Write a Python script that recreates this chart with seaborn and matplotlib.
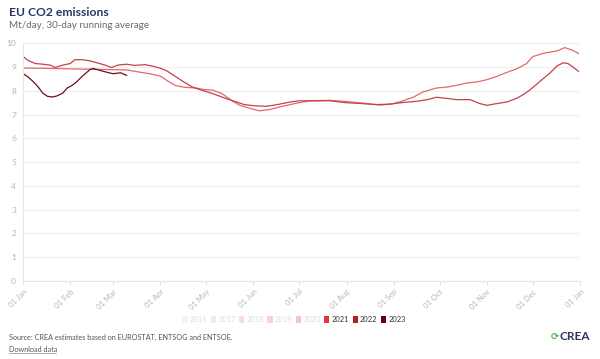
import matplotlib
matplotlib.use("Agg")
import matplotlib.pyplot as plt
import matplotlib.dates as mdates
from matplotlib.patches import Patch
from matplotlib.lines import Line2D
import pandas as pd
import seaborn as sns

# ---------------- data (day of year -> Mt/day) ----------------
days_2021 = [0, 20, 42, 68, 77, 83, 90, 94, 100, 106, 113, 119, 124, 130, 137, 142, 149,
             155, 162, 170, 180, 188, 201, 212, 223, 234, 242, 249, 256, 262, 271, 278,
             284, 291, 298, 304, 311, 316, 324, 330, 334, 341, 350, 355, 360, 364]
vals_2021 = [8.96, 8.94, 8.91, 8.88, 8.78, 8.72, 8.62, 8.45, 8.22, 8.15, 8.12, 8.05, 8.03,
             7.90, 7.58, 7.39, 7.26, 7.16, 7.22, 7.35, 7.49, 7.58, 7.60, 7.55, 7.48, 7.40,
             7.45, 7.58, 7.74, 7.95, 8.12, 8.16, 8.23, 8.33, 8.38, 8.47, 8.62, 8.75, 8.94,
             9.15, 9.44, 9.58, 9.68, 9.82, 9.71, 9.57]

days_2022 = [0, 3, 8, 13, 18, 21, 26, 31, 34, 39, 44, 49, 54, 58, 62, 68, 73, 80, 85, 90,
             94, 100, 106, 111, 117, 124, 132, 139, 145, 152, 159, 165, 175, 181, 190, 201,
             212, 223, 232, 240, 249, 258, 265, 271, 278, 284, 293, 299, 304, 311, 317, 324,
             328, 332, 337, 341, 345, 350, 354, 357, 360, 364]
vals_2022 = [9.45, 9.29, 9.15, 9.12, 9.08, 8.98, 9.08, 9.15, 9.31, 9.31, 9.26, 9.17, 9.08,
             8.98, 9.08, 9.12, 9.07, 9.10, 9.04, 8.95, 8.85, 8.60, 8.35, 8.16, 8.03, 7.89,
             7.70, 7.55, 7.42, 7.37, 7.35, 7.40, 7.53, 7.58, 7.58, 7.58, 7.50, 7.46, 7.42,
             7.44, 7.51, 7.56, 7.63, 7.73, 7.68, 7.63, 7.63, 7.47, 7.39, 7.47, 7.53, 7.70,
             7.85, 8.03, 8.30, 8.52, 8.73, 9.05, 9.18, 9.15, 9.02, 8.82]

days_2023 = [0, 3, 7, 10, 13, 16, 19, 22, 26, 29, 32, 35, 39, 44, 46, 50, 55, 59, 64, 68]
vals_2023 = [8.73, 8.60, 8.37, 8.16, 7.90, 7.77, 7.74, 7.78, 7.90, 8.12, 8.22, 8.37, 8.62,
             8.90, 8.94, 8.87, 8.78, 8.72, 8.76, 8.65]

legend_years = ["2016", "2017", "2018", "2019", "2020", "2021", "2022", "2023"]
legend_colors = ["#fdf2f2", "#fce6e6", "#fbdcdc", "#f9d2d2", "#f6c6c6",
                 "#d9383f", "#b21f2b", "#67000d"]
line_colors = {"2021": "#e4676c", "2022": "#c5404a", "2023": "#6d0f1c"}

title = "EU CO2 emissions"
subtitle = "Mt/day, 30-day running average"
source = "Source: CREA estimates based on EUROSTAT, ENTSOG and ENTSOE."

# ---------------- build table ----------------
base = pd.Timestamp("2022-01-01")
frames = []
for yr, d, v in [("2021", days_2021, vals_2021), ("2022", days_2022, vals_2022),
                 ("2023", days_2023, vals_2023)]:
    frames.append(pd.DataFrame({"date": base + pd.to_timedelta(d, unit="D"),
                                "value": v, "year": yr}))
df = pd.concat(frames, ignore_index=True)

# ---------------- figure ----------------
sns.set_theme(style="white")
plt.rcParams["font.family"] = ["Lato", "DejaVu Sans"]

fig = plt.figure(figsize=(6, 3.59), dpi=100)
ax = fig.add_axes([0.0383, 0.2173, 0.9284, 0.6621])

sns.lineplot(data=df, x="date", y="value", hue="year", palette=line_colors,
             hue_order=["2021", "2022", "2023"], estimator=None, legend=False,
             linewidth=0.9, ax=ax)

ax.set_xlim(base, pd.Timestamp("2023-01-01"))
ax.set_ylim(0, 10)
ax.set_yticks(range(0, 11))
ax.grid(axis="y", color="#eeeeee", linewidth=0.8)
ax.grid(axis="x", visible=False)
ax.set_axisbelow(True)
ax.xaxis.set_major_locator(mdates.MonthLocator())
ax.xaxis.set_major_formatter(mdates.DateFormatter("%d %b"))
ax.set_xlabel("")
ax.set_ylabel("")
for s in ["top", "right"]:
    ax.spines[s].set_visible(False)
for s in ["left", "bottom"]:
    ax.spines[s].set_color("#e6e6e6")
    ax.spines[s].set_linewidth(0.8)
ax.tick_params(axis="y", length=0, pad=5, labelsize=6, labelcolor="#b5b5b5")
ax.tick_params(axis="x", length=3, width=0.6, color="#dddddd", pad=2,
               labelsize=5.5, labelcolor="#b5b5b5", bottom=True)
plt.setp(ax.get_xticklabels(), rotation=45, ha="right", rotation_mode="anchor")

# titles
fig.text(9 / 600, 1 - 12 / 359, title, fontsize=8.7, fontweight="bold",
         color="#2b3563", va="center", ha="left")
fig.text(9 / 600, 1 - 25 / 359, subtitle, fontsize=7.1, color="#6b6b6b",
         va="center", ha="left")

# legend
handles = [Patch(facecolor=c, edgecolor="none", label=y)
           for y, c in zip(legend_years, legend_colors)]
leg = fig.legend(handles=handles, loc="center", bbox_to_anchor=(294 / 600, 1 - 319.5 / 359),
                 ncol=8, frameon=False, fontsize=5.4, handlelength=0.7, handleheight=1.0,
                 handletextpad=0.3, columnspacing=0.45, borderaxespad=0)
for t, y in zip(leg.get_texts(), legend_years):
    t.set_color("#333333" if y in line_colors else "#dedede")

# footer
fig.text(9 / 600, 1 - 337 / 359, source, fontsize=5.2, color="#555555",
         va="center", ha="left")
fig.text(9 / 600, 1 - 349 / 359, "Download data", fontsize=5.2, color="#555555",
         va="center", ha="left")
fig.add_artist(Line2D([9 / 600, 56 / 600], [1 - 353 / 359, 1 - 353 / 359],
                      color="#888888", linewidth=0.5, transform=fig.transFigure))
fig.text(590 / 600, 1 - 337 / 359, "CREA", fontsize=8.5, fontweight="bold",
         color="#2b3563", va="center", ha="right")
fig.text(555 / 600, 1 - 337 / 359, "\u27f3", fontsize=7, fontweight="bold",
         color="#4caf50", va="center", ha="center", family="DejaVu Sans")

fig.savefig("out.png", dpi=100, facecolor="white")
